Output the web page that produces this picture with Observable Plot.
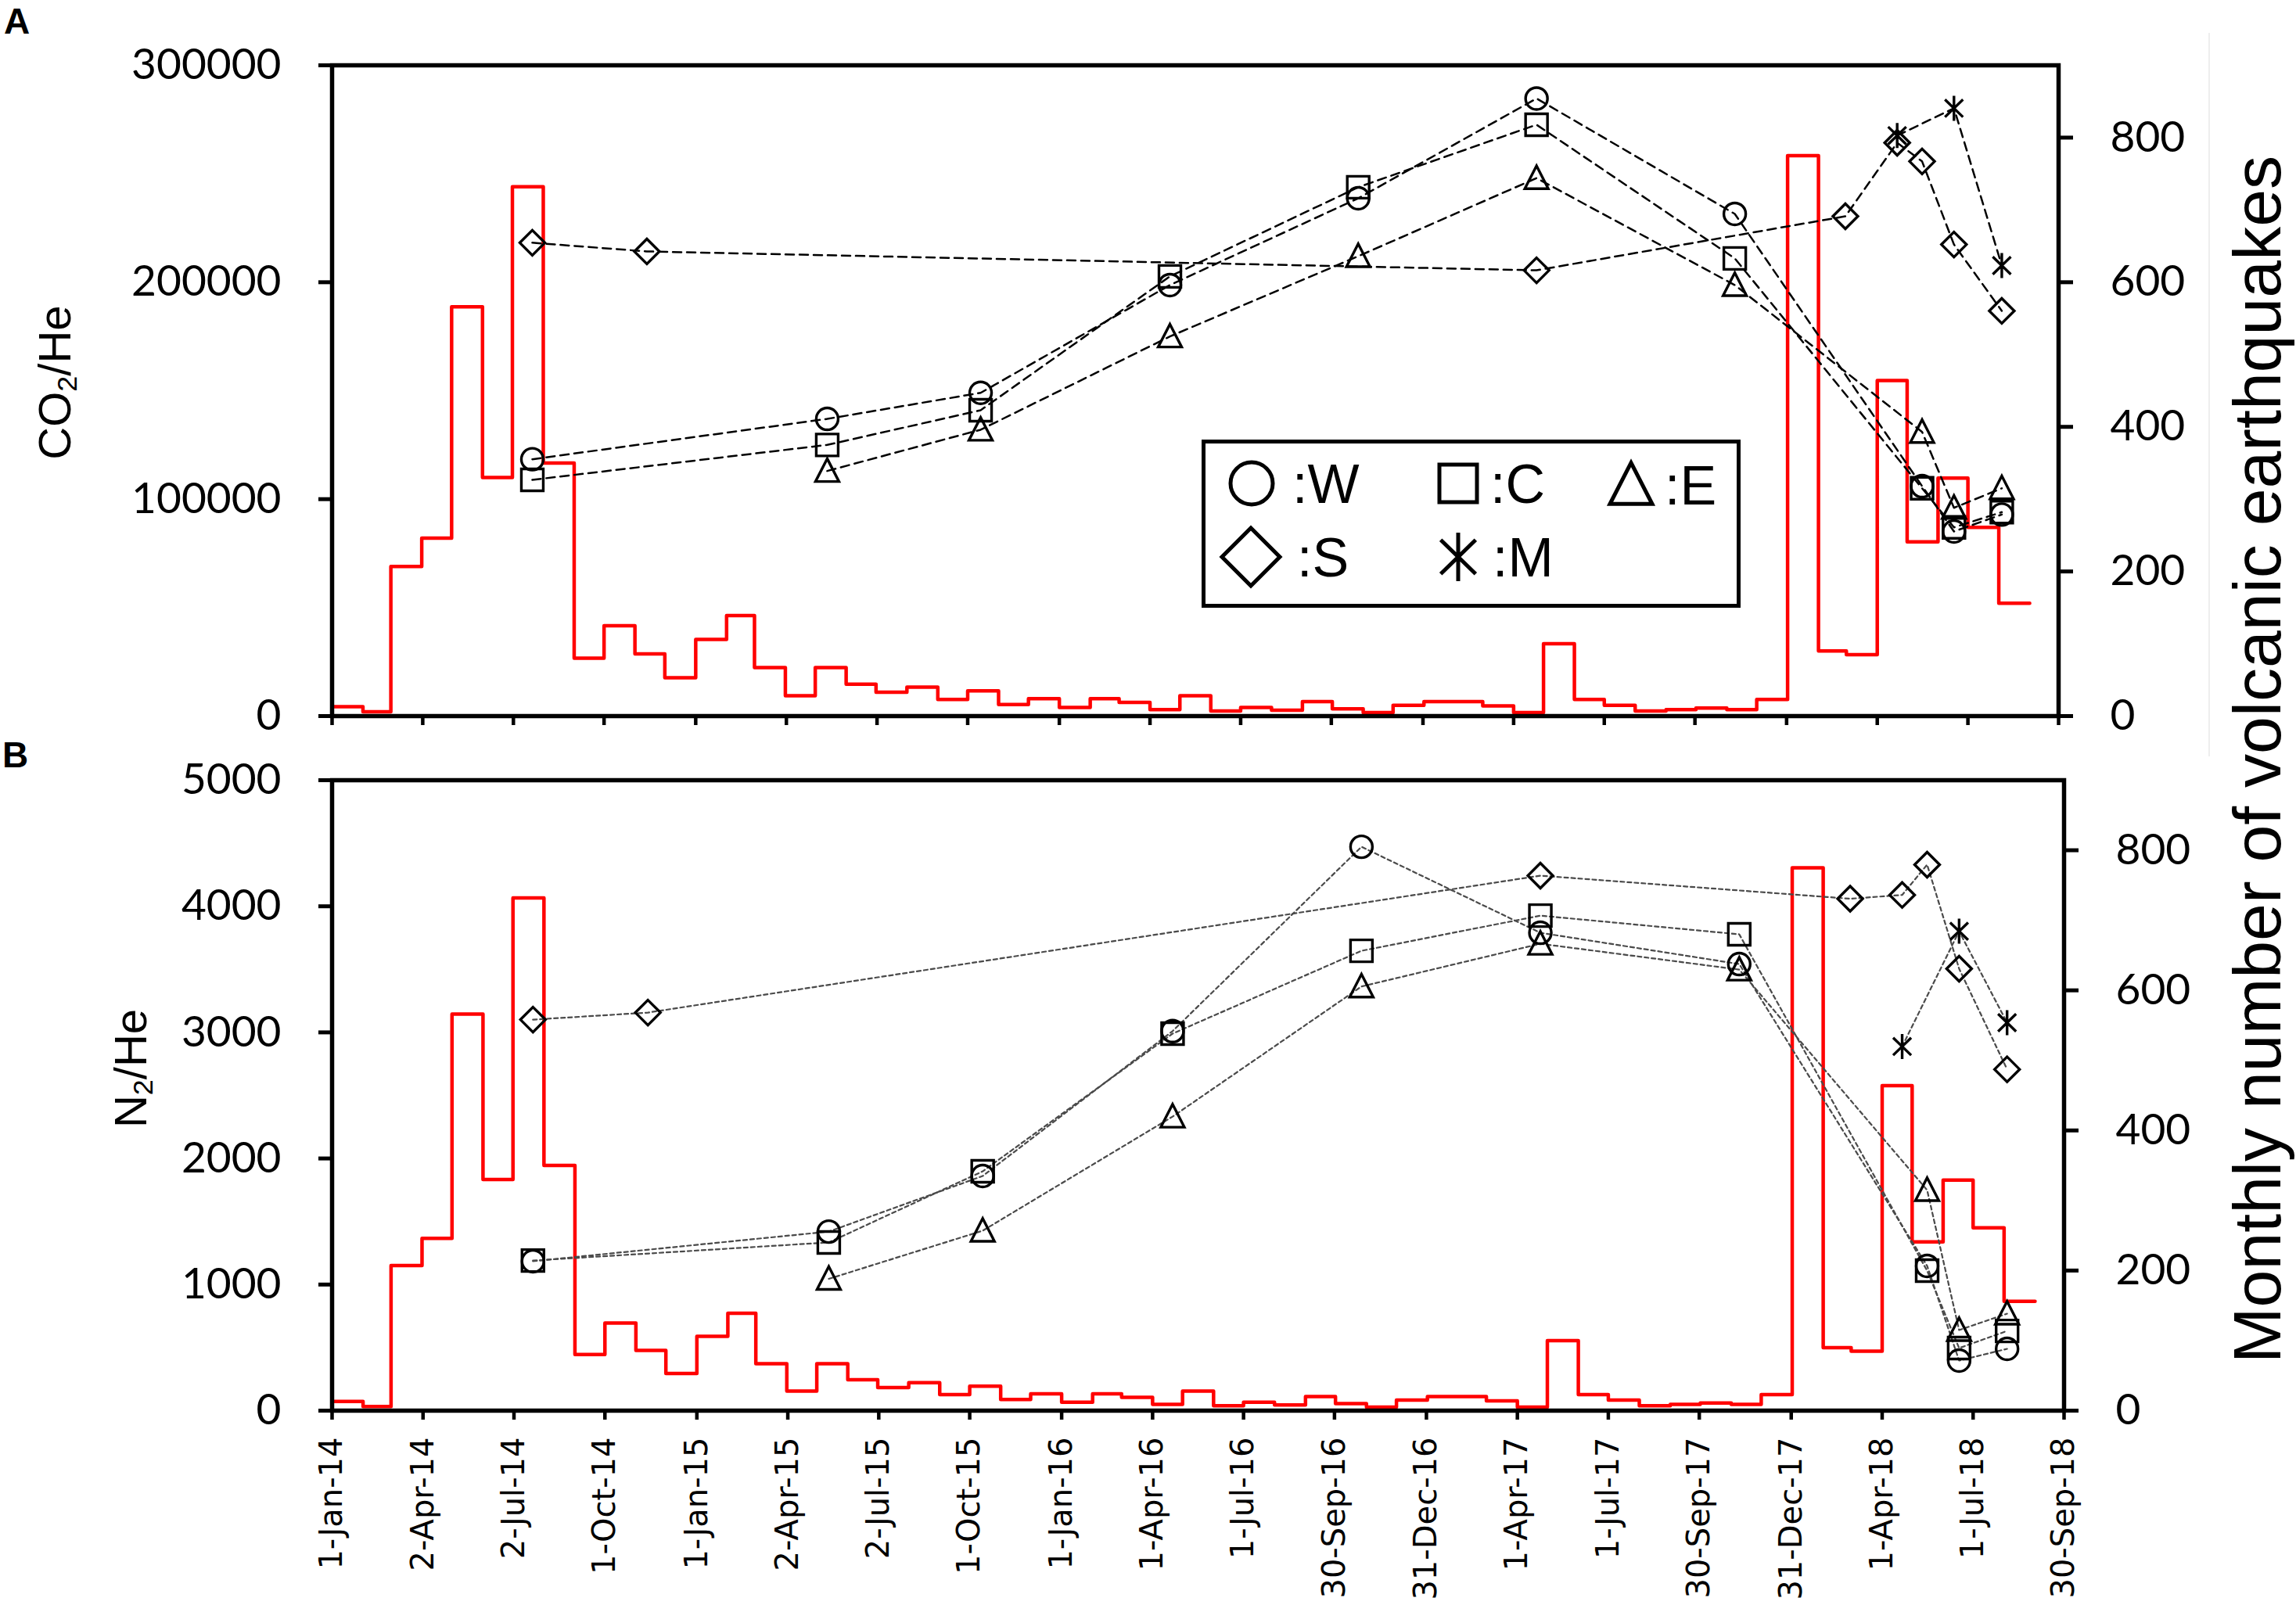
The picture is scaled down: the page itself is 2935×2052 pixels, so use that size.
<!DOCTYPE html>
<html>
<head>
<meta charset="utf-8">
<script src="https://cdn.jsdelivr.net/npm/d3@7"></script>
<script src="https://cdn.jsdelivr.net/npm/@observablehq/plot@0.6"></script>
<style>
  html, body { margin: 0; padding: 0; background: #fff; }
  #root { position: relative; width: 2935px; height: 2052px; overflow: hidden; background: #fff; }
  .layer { position: absolute; left: 0; }
  .layer svg { display: block; }
  .rot { position: absolute; transform: translate(-50%, -50%) rotate(-90deg); white-space: nowrap;
         font-family: "Liberation Sans", Arial, sans-serif; color: #000; line-height: 1; }
  .rot sub { font-size: 0.62em; vertical-align: -0.22em; line-height: 0; }
  .panel-letter { position: absolute; font-family: "Liberation Sans", Arial, sans-serif; font-weight: bold;
                  font-size: 46px; line-height: 1; color: #000; }
</style>
</head>
<body>
<div id="root">
  <div id="histA" class="layer" style="top:0"></div>
  <div id="ptsA" class="layer" style="top:0"></div>
  <div id="histB" class="layer" style="top:960px"></div>
  <div id="ptsB" class="layer" style="top:960px"></div>
  <div class="panel-letter" style="left:5px; top:4px;">A</div>
  <div class="panel-letter" style="left:3px; top:942px;">B</div>
  <div class="rot" style="left:70px; top:489px; font-size:58px;">CO<sub>2</sub>/He</div>
  <div class="rot" style="left:167px; top:1366px; font-size:58px;">N<sub>2</sub>/He</div>
  <div class="rot" style="left:2885px; top:971px; font-size:86px;">Monthly number of volcanic earthquakes</div>
  <div style="position:absolute; left:2823px; top:42px; width:2px; height:925px; background:#eeeeee;"></div>
  <div id="legend" style="position:absolute; left:0; top:0;"></div>
</div>
<script>
// ---------------- data ----------------
const tickLabels = ["1-Jan-14","2-Apr-14","2-Jul-14","1-Oct-14","1-Jan-15","2-Apr-15","2-Jul-15","1-Oct-15",
  "1-Jan-16","1-Apr-16","1-Jul-16","30-Sep-16","31-Dec-16","1-Apr-17","1-Jul-17","30-Sep-17","31-Dec-17",
  "1-Apr-18","1-Jul-18","30-Sep-18"];

const sampleDates = ["2014-07-21","2014-11-13","2015-05-13","2015-10-14","2016-04-21","2016-10-27",
  "2017-04-24","2017-11-09","2018-02-28","2018-04-21","2018-05-16","2018-06-17","2018-08-04"];

// CO2/He (panel A)
const co2W = [118400, null, 137000, 149000, 198700, 238700, 284700, 231500, null, null, 106000, 85100, 92900];
const co2C = [108900, null, 125000, 141000, 202700, 243800, 272600, 211000, null, null, 105000, 87000, 94000];
const co2E = [null, null, 113000, 132000, 175000, 212000, 248000, 198700, null, null, 131000, 96000, 105000];
const co2S = [218200, 214200, null, null, null, null, 205500, null, 230400, 264300, 255700, 217400, 186800];
const co2M = [null, null, null, null, null, null, null, null, null, 267600, null, 280200, 207700];

// N2/He (panel B)
const n2W = [1185, null, 1420, 1861, 3010, 4472, 3790, 3542, null, null, 1148, 397, 490];
const n2C = [1190, null, 1334, 1898, 2990, 3647, 3926, 3778, null, null, 1110, 496, 632];
const n2E = [null, null, 1045, 1427, 2332, 3364, 3703, 3498, null, null, 1749, 639, 769];
const n2S = [3101, 3157, null, null, null, null, 4243, null, 4060, 4090, 4330, 3505, 2707];
const n2M = [null, null, null, null, null, null, null, null, null, 2888, null, 3802, 3077];

// Monthly number of volcanic earthquakes, Jan 2014 .. Aug 2018
const quakeStart = "2014-01";
const quakes = [
  13, 6, 207, 246, 566, 330, 732, 350, 80, 125, 86, 53,      // 2014
  106, 139, 67, 28, 67, 44, 33, 40, 23, 35, 16, 24,          // 2015
  12, 24, 19, 9, 28, 7, 12, 8, 20, 10, 5, 15,                // 2016
  20, 20, 14, 5, 100, 23, 15, 7, 9, 11, 9, 23,               // 2017
  775, 90, 85, 464, 241, 329, 261, 156                       // 2018
];

const co2Ticks = [0, 100000, 200000, 300000];
const n2Ticks = [0, 1000, 2000, 3000, 4000, 5000];
const quakeTicks = [0, 200, 400, 600, 800];

// ---------------- derived ----------------
const parseTick = d3.utcParse("%d-%b-%y");
const tickDates = tickLabels.map(parseTick);
const labelOf = new Map(tickDates.map((d, i) => [+d, tickLabels[i]]));
const dates = sampleDates.map(d3.utcParse("%Y-%m-%d"));
const xDomain = [tickDates[0], tickDates[tickDates.length - 1]];

const m0 = d3.utcParse("%Y-%m")(quakeStart);
const hist = quakes.map((n, i) => ({date: d3.utcMonth.offset(m0, i), n}));
hist.push({date: d3.utcMonth.offset(m0, quakes.length), n: quakes[quakes.length - 1]});

function rows(vals) {
  return dates.map((d, i) => ({date: d, v: vals[i]})).filter(r => r.v != null);
}

// custom symbols (drawn around the point, sized from r)
const R = size => Math.sqrt(size / Math.PI);
const symCircle = {draw(ctx, size) { const r = R(size); ctx.moveTo(r, 0); ctx.arc(0, 0, r, 0, 2 * Math.PI); }};
const symSquare = {draw(ctx, size) { const r = R(size); ctx.rect(-r, -r, 2 * r, 2 * r); }};
const symTriangle = {draw(ctx, size) { const r = R(size); ctx.moveTo(0, -r * 1.05); ctx.lineTo(r, r * 0.9); ctx.lineTo(-r, r * 0.9); ctx.closePath(); }};
const symDiamond = {draw(ctx, size) { const r = R(size); ctx.moveTo(0, -r); ctx.lineTo(r, 0); ctx.lineTo(0, r); ctx.lineTo(-r, 0); ctx.closePath(); }};
const symAsterisk = {draw(ctx, size) { const r = R(size);
  ctx.moveTo(0, -r); ctx.lineTo(0, r);
  ctx.moveTo(-0.72 * r, -0.7 * r); ctx.lineTo(0.72 * r, 0.7 * r);
  ctx.moveTo(0.72 * r, -0.7 * r); ctx.lineTo(-0.72 * r, 0.7 * r); }};

const seriesA = [
  {vals: co2W, symbol: symCircle, r: 14},
  {vals: co2C, symbol: symSquare, r: 14},
  {vals: co2E, symbol: symTriangle, r: 15},
  {vals: co2S, symbol: symDiamond, r: 16},
  {vals: co2M, symbol: symAsterisk, r: 16}
];
const seriesB = [
  {vals: n2W, symbol: symCircle, r: 14},
  {vals: n2C, symbol: symSquare, r: 14},
  {vals: n2E, symbol: symTriangle, r: 15},
  {vals: n2S, symbol: symDiamond, r: 16},
  {vals: n2M, symbol: symAsterisk, r: 16}
];

const baseStyle = {background: "transparent", overflow: "visible", maxWidth: "none", color: "black",
  fontFamily: "Lato, sans-serif", fontSize: "55px"};

function pointsChart({series, yDomain, yTicks, height, mt, mb, mr, lineStroke, dash, lineWidth, xLabels}) {
  const marks = [
    Plot.axisY({ticks: yTicks, tickFormat: "d", tickSize: 17, tickPadding: 48, strokeWidth: 5,
      fontFamily: "Lato, sans-serif", fontSize: 55, label: null}),
    xLabels
      ? Plot.axisX({ticks: tickDates, tickFormat: d => labelOf.get(+d), tickRotate: -90, tickSize: 12,
          tickPadding: 22, strokeWidth: 4.5, fontFamily: "DejaVu Sans, sans-serif", fontSize: 40, label: null})
      : Plot.axisX({ticks: tickDates, tickFormat: () => "", tickSize: 12, strokeWidth: 4.5, label: null}),
    Plot.frame({stroke: "black", strokeWidth: 5.5})
  ];
  for (const s of series) {
    marks.push(Plot.line(rows(s.vals), {x: "date", y: "v", stroke: lineStroke, strokeWidth: lineWidth,
      strokeDasharray: dash}));
  }
  for (const s of series) {
    marks.push(Plot.dot(rows(s.vals), {x: "date", y: "v", symbol: s.symbol, r: s.r, stroke: "black",
      strokeWidth: 3.4, fill: "none"}));
  }
  return Plot.plot({
    width: 2935, height, marginLeft: 424, marginRight: mr, marginTop: mt, marginBottom: mb,
    x: {type: "utc", domain: xDomain},
    y: {domain: yDomain},
    style: baseStyle,
    marks
  });
}

function histChart({height, mt, mb, mr}) {
  return Plot.plot({
    width: 2935, height, marginLeft: 424, marginRight: mr, marginTop: mt, marginBottom: mb,
    x: {type: "utc", domain: xDomain, axis: null},
    y: {domain: [0, 900]},
    style: baseStyle,
    marks: [
      Plot.axisY({anchor: "right", ticks: quakeTicks, tickSize: 18, tickPadding: 48, strokeWidth: 5,
        fontFamily: "Lato, sans-serif", fontSize: 55, label: null}),
      Plot.line(hist, {x: "date", y: "n", curve: "step-after", stroke: "#ff0000", strokeWidth: 4.5})
    ]
  });
}

document.getElementById("histA").append(histChart({height: 960, mt: 83, mb: 45, mr: 304}));
document.getElementById("ptsA").append(pointsChart({series: seriesA, yDomain: [0, 300000], yTicks: co2Ticks,
  height: 960, mt: 83, mb: 45, mr: 304, lineStroke: "black", dash: "11,7", lineWidth: 2.5, xLabels: false}));
document.getElementById("histB").append(histChart({height: 1092, mt: 37, mb: 249, mr: 297}));
document.getElementById("ptsB").append(pointsChart({series: seriesB, yDomain: [0, 5000], yTicks: n2Ticks,
  height: 1092, mt: 37, mb: 249, mr: 297, lineStroke: "#4a4a4a", dash: "5,4", lineWidth: 2.2, xLabels: true}));

// ---------------- legend ----------------
const leg = d3.select("#legend").append("svg").attr("width", 2935).attr("height", 2052)
  .style("position", "absolute").style("left", "0").style("top", "0").style("overflow", "visible");
leg.append("rect").attr("x", 1538.5).attr("y", 564.5).attr("width", 684).attr("height", 210)
  .attr("fill", "white").attr("stroke", "black").attr("stroke-width", 5);
const legendItems = [
  {symbol: symCircle, r: 27, cx: 1600, cy: 618, label: ":W", tx: 1652},
  {symbol: symSquare, r: 24, cx: 1864, cy: 618, label: ":C", tx: 1905},
  {symbol: symTriangle, r: 27, cx: 2085, cy: 620, label: ":E", tx: 2128},
  {symbol: symDiamond, r: 37, cx: 1599, cy: 712, label: ":S", tx: 1658},
  {symbol: symAsterisk, r: 31, cx: 1864, cy: 712, label: ":M", tx: 1908}
];
for (const it of legendItems) {
  const p = d3.path();
  it.symbol.draw(p, Math.PI * it.r * it.r);
  leg.append("path").attr("d", p.toString()).attr("transform", `translate(${it.cx},${it.cy})`)
    .attr("fill", "none").attr("stroke", "black").attr("stroke-width", 5);
  leg.append("text").attr("x", it.tx).attr("y", it.cy + 25).text(it.label)
    .attr("font-family", "Liberation Sans, Arial, sans-serif").attr("font-size", 70).attr("fill", "black");
}
</script>
</body>
</html>
